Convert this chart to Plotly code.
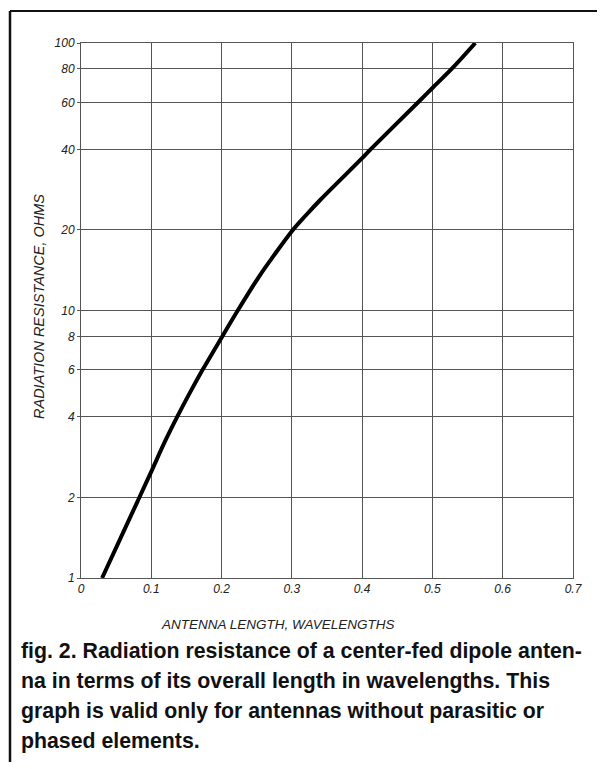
import plotly.graph_objects as go

# ---- data ----
length_wl = [0.030, 0.063, 0.083, 0.100, 0.120, 0.137, 0.155, 0.173, 0.201, 0.223,
             0.255, 0.274, 0.300, 0.320, 0.341, 0.400, 0.412, 0.479, 0.500, 0.528, 0.561]
resistance_ohms = [1.0, 1.54, 2.0, 2.5, 3.26, 4.01, 4.93, 6.0, 8.0, 10.0,
                   13.6, 16.0, 19.8, 22.7, 26.0, 37.1, 40.0, 59.8, 67.9, 80.3, 100.0]

x_ticks = [0, 0.1, 0.2, 0.3, 0.4, 0.5, 0.6, 0.7]
x_tick_labels = ["0", "0.1", "0.2", "0.3", "0.4", "0.5", "0.6", "0.7"]
y_ticks = [1, 2, 4, 6, 8, 10, 20, 40, 60, 80, 100]
y_tick_labels = ["1", "2", "4", "6", "8", "10", "20", "40", "60", "80", "100"]

x_title = "ANTENNA LENGTH, WAVELENGTHS"
y_title = "RADIATION RESISTANCE, OHMS"
caption_lines = [
    "fig. 2. Radiation resistance of a center-fed dipole anten-",
    "na in terms of its overall length in wavelengths. This",
    "graph is valid only for antennas without parasitic or",
    "phased elements.",
]

# ---- layout geometry (pixels; page body adds an 8px offset) ----
OFF = 8
W, H = 605 - OFF, 769 - OFF
ML, MR, MT, MB = 81 - OFF, 32, 43 - OFF, 191
PW, PH = W - ML - MR, H - MT - MB


def px(xpix):
    return (xpix - OFF - ML) / PW


def py(ypix):
    return (H - MB - (ypix - OFF)) / PH


fig = go.Figure()
fig.add_trace(go.Scatter(
    x=length_wl, y=resistance_ohms, mode="lines",
    line=dict(color="black", width=4, shape="spline", smoothing=1.0),
    hoverinfo="skip", showlegend=False,
))

tickfont = dict(family="Liberation Sans", size=12, color="#222", style="italic")
grid = "#555"

fig.update_xaxes(
    range=[0, 0.7], tickmode="array", tickvals=x_ticks, ticktext=x_tick_labels,
    showgrid=True, gridcolor=grid, gridwidth=1, zeroline=False,
    showline=True, mirror=True, linecolor=grid, linewidth=1,
    ticks="", tickfont=tickfont,
)
fig.update_yaxes(
    type="log", range=[0, 2], tickmode="array", tickvals=y_ticks, ticktext=y_tick_labels,
    showgrid=True, gridcolor=grid, gridwidth=1, zeroline=False,
    showline=True, mirror=True, linecolor=grid, linewidth=1,
    ticks="outside", ticklen=3, tickcolor=grid, tickfont=tickfont,
)

annotations = [
    dict(text=x_title, xref="paper", yref="paper", x=px(278), y=py(624),
         showarrow=False, xanchor="center", yanchor="middle",
         font=dict(family="Liberation Sans", size=13.5, color="#222", style="italic")),
    dict(text=y_title, xref="paper", yref="paper", x=px(39), y=py(307),
         showarrow=False, xanchor="center", yanchor="middle", textangle=-90,
         font=dict(family="Liberation Sans", size=14.5, color="#222", style="italic")),
]
line_y = [651, 681, 711, 741]
for txt, yy in zip(caption_lines, line_y):
    annotations.append(dict(
        text=txt, xref="paper", yref="paper", x=px(19), y=py(yy),
        showarrow=False, xanchor="left", yanchor="middle",
        font=dict(family="Liberation Sans", size=21.3, color="#111", weight="bold"),
    ))

shapes = [
    dict(type="line", xref="paper", yref="paper", x0=px(10), x1=px(605), y0=py(11), y1=py(11),
         line=dict(color="#111", width=2)),
    dict(type="line", xref="paper", yref="paper", x0=px(10), x1=px(10), y0=py(11), y1=py(762),
         line=dict(color="#111", width=2.5)),
]

fig.update_layout(
    width=W, height=H, margin=dict(l=ML, r=MR, t=MT, b=MB, autoexpand=False),
    paper_bgcolor="white", plot_bgcolor="white",
    annotations=annotations, shapes=shapes, showlegend=False,
)

fig.write_html("out.html")
